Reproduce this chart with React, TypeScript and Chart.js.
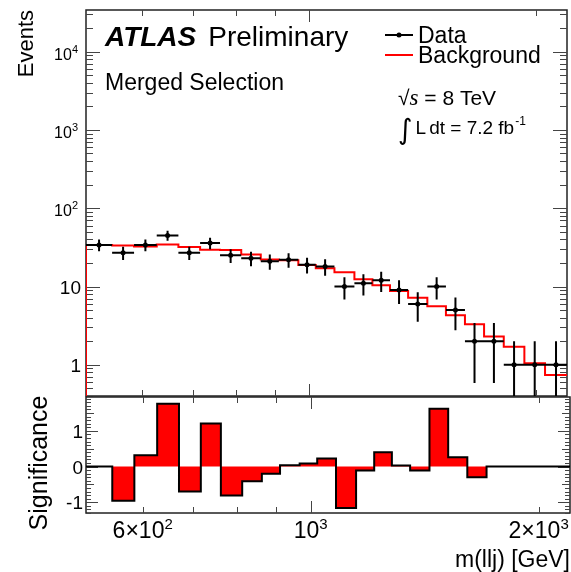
import React, { useEffect, useRef } from 'react';
import { Chart, registerables } from 'chart.js';

Chart.register(...registerables);

// ---------------- data ----------------
const binEdges = [505, 547, 585, 627, 670, 716, 761, 812, 862, 911, 967, 1020, 1080, 1148, 1213, 1280, 1353, 1435, 1519, 1610, 1707, 1813, 1931, 2057, 2200];
const dataCounts = [34, 27, 34, 45, 27, 36, 25, 23, 21, 22, 19, 18, 10, 11, 12, 9, 6, 10, 5, 2, 2, 1, 1, 1];
const backgroundCounts = [33.8, 33.5, 32.5, 34.5, 31.9, 29.5, 29.3, 25.7, 22.2, 21.7, 18.8, 17.1, 15.2, 12.4, 10.4, 8.8, 7.2, 5.6, 4.3, 3.3, 2.3, 1.7, 1.05, 0.74];
const significance = [0, -0.96, 0.32, 1.76, -0.7, 1.21, -0.81, -0.41, -0.2, 0.04, 0.09, 0.23, -1.16, -0.11, 0.4, 0.03, -0.11, 1.62, 0.26, -0.3, 0, 0, 0, 0];

const xMin = 505;
const xMax = 2200;
const yTopMin = 0.4;
const yTopMax = 34000;
const ySigMin = -1.3;
const ySigMax = 1.95;

const xLabelValues = [600, 1000, 2000];
const xLabelBases = ['6×10', '10', '2×10'];
const xLabelExps = ['2', '3', '3'];
const xMinorTicks = [600, 700, 800, 900, 2000];
const xMajorTicks = [1000];
const yTopLabelValues = [1, 10, 100, 1000, 10000];
const yTopLabelExps = ['', '', '2', '3', '4'];
const ySigLabelValues = [-1, 0, 1];

const FONT = "'Liberation Sans', Arial, Helvetica, sans-serif";

// ---------------- helpers ----------------
function stepPoints(values: number[], floorStart?: number) {
  const pts: { x: number; y: number }[] = [];
  if (floorStart !== undefined) pts.push({ x: binEdges[0], y: floorStart });
  values.forEach((v, i) => {
    pts.push({ x: binEdges[i], y: v });
    pts.push({ x: binEdges[i + 1], y: v });
  });
  return pts;
}

function binCenter(i: number) {
  return Math.sqrt(binEdges[i] * binEdges[i + 1]);
}

function errorBarPoints() {
  const pts: { x: number; y: number | null }[] = [];
  dataCounts.forEach((n, i) => {
    const c = binCenter(i);
    const e = Math.sqrt(n);
    pts.push({ x: binEdges[i], y: n }, { x: binEdges[i + 1], y: n }, { x: c, y: null });
    pts.push({ x: c, y: Math.max(n - e, 1e-3) }, { x: c, y: n + e }, { x: c, y: null });
  });
  return pts;
}

function powLabel(ctx: CanvasRenderingContext2D, base: string, exp: string, x: number, y: number,
  baseSize: number, expSize: number, raise: number, align: 'right' | 'center') {
  ctx.font = `${baseSize}px ${FONT}`;
  const wb = ctx.measureText(base).width;
  ctx.font = `${expSize}px ${FONT}`;
  const we = exp ? ctx.measureText(exp).width : 0;
  const total = wb + we;
  const x0 = align === 'right' ? x - total : x - total / 2;
  ctx.textAlign = 'left';
  ctx.textBaseline = 'alphabetic';
  ctx.fillStyle = '#000';
  ctx.font = `${baseSize}px ${FONT}`;
  ctx.fillText(base, x0, y);
  if (exp) {
    ctx.font = `${expSize}px ${FONT}`;
    ctx.fillText(exp, x0 + wb, y - raise);
  }
}

function line(ctx: CanvasRenderingContext2D, x1: number, y1: number, x2: number, y2: number) {
  ctx.beginPath();
  ctx.moveTo(x1, y1);
  ctx.lineTo(x2, y2);
  ctx.stroke();
}

function drawXTicks(ctx: CanvasRenderingContext2D, chart: any, minorLen: number, majorLen: number) {
  const a = chart.chartArea;
  const xs = chart.scales.x;
  ctx.strokeStyle = '#444';
  ctx.lineWidth = 1;
  const all = [...xMinorTicks.map((v) => [v, minorLen]), ...xMajorTicks.map((v) => [v, majorLen])];
  all.forEach(([v, len]) => {
    const px = Math.round(xs.getPixelForValue(v)) + 0.5;
    line(ctx, px, a.top, px, a.top + len);
    line(ctx, px, a.bottom, px, a.bottom - len);
  });
}

function drawFrame(ctx: CanvasRenderingContext2D, a: any) {
  ctx.strokeStyle = '#222';
  ctx.lineWidth = 1.5;
  ctx.strokeRect(a.left, a.top, a.right - a.left, a.bottom - a.top);
}

// ---------------- plugins ----------------
const topPlugin = {
  id: 'topAxes',
  beforeDatasetsDraw(chart: any) {
    const ctx: CanvasRenderingContext2D = chart.ctx;
    const a = chart.chartArea;
    const ys = chart.scales.y;
    ctx.save();
    drawFrame(ctx, a);
    ctx.strokeStyle = '#444';
    ctx.lineWidth = 1;
    for (let d = -1; d <= 4; d++) {
      for (let k = 1; k <= 9; k++) {
        const v = k * Math.pow(10, d);
        if (v < yTopMin || v > yTopMax) continue;
        const py = Math.round(ys.getPixelForValue(v)) + 0.5;
        const len = k === 1 ? 14 : 7;
        line(ctx, a.left, py, a.left + len, py);
        line(ctx, a.right - len, py, a.right, py);
      }
    }
    drawXTicks(ctx, chart, 6, 12);
    ctx.restore();
  },
  afterDraw(chart: any) {
    const ctx: CanvasRenderingContext2D = chart.ctx;
    const ys = chart.scales.y;
    ctx.save();
    // y tick labels
    yTopLabelValues.forEach((v, i) => {
      const py = ys.getPixelForValue(v);
      const exp = yTopLabelExps[i];
      if (exp) {
        powLabel(ctx, '10', exp, 78, py + 8, 16, 11, 7, 'right');
      } else {
        powLabel(ctx, String(v), '', 81, py + 7, 19, 11, 0, 'right');
      }
    });
    // axis title
    ctx.fillStyle = '#000';
    ctx.save();
    ctx.translate(33, 10);
    ctx.rotate(-Math.PI / 2);
    ctx.font = `22px ${FONT}`;
    ctx.textAlign = 'right';
    ctx.textBaseline = 'alphabetic';
    ctx.fillText('Events', 0, 0);
    ctx.restore();

    // ATLAS Preliminary
    ctx.textAlign = 'left';
    ctx.font = `italic bold 28px ${FONT}`;
    ctx.fillText('ATLAS', 105, 46);
    const wA = ctx.measureText('ATLAS').width;
    ctx.font = `28px ${FONT}`;
    ctx.fillText('Preliminary', 105 + wA + 12, 46);

    // Merged Selection
    ctx.font = `23px ${FONT}`;
    ctx.fillText('Merged Selection', 105, 90);

    // legend
    ctx.strokeStyle = '#000';
    ctx.lineWidth = 2;
    line(ctx, 385, 35, 413, 35);
    ctx.beginPath();
    ctx.arc(399, 35, 2.5, 0, Math.PI * 2);
    ctx.fillStyle = '#000';
    ctx.fill();
    ctx.strokeStyle = '#ff0000';
    line(ctx, 385, 55, 413, 55);
    ctx.fillStyle = '#000';
    ctx.font = `23px ${FONT}`;
    ctx.fillText('Data', 418, 43);
    ctx.fillText('Background', 418, 63);

    // sqrt(s)
    let x0 = 398;
    ctx.font = `21px ${FONT}`;
    ctx.fillText('√', x0, 105);
    x0 += ctx.measureText('√').width;
    ctx.font = `italic 23px 'Liberation Serif', serif`;
    ctx.fillText('s', x0, 105);
    x0 += ctx.measureText('s').width;
    ctx.font = `21px ${FONT}`;
    ctx.fillText(' = 8 TeV', x0, 105);

    // luminosity
    x0 = 398;
    ctx.font = `28px 'DejaVu Sans', ${FONT}`;
    ctx.fillText('∫', x0, 139);
    x0 += ctx.measureText('∫').width + 3;
    ctx.font = `19px ${FONT}`;
    ctx.fillText('L', x0, 134);
    x0 += ctx.measureText('L').width + 3;
    ctx.fillText('dt = 7.2 fb', x0, 134);
    x0 += ctx.measureText('dt = 7.2 fb').width;
    ctx.font = `12px ${FONT}`;
    ctx.fillText('-1', x0 + 1, 125);
    ctx.restore();
  },
};

const bottomPlugin = {
  id: 'bottomAxes',
  beforeDatasetsDraw(chart: any) {
    const ctx: CanvasRenderingContext2D = chart.ctx;
    const a = chart.chartArea;
    const ys = chart.scales.y;
    ctx.save();
    drawFrame(ctx, a);
    ctx.strokeStyle = '#444';
    ctx.lineWidth = 1;
    for (let k = -13; k <= 19; k++) {
      const v = k / 10;
      if (v < ySigMin || v > ySigMax) continue;
      const py = Math.round(ys.getPixelForValue(v)) + 0.5;
      const len = k % 10 === 0 ? 12 : k % 5 === 0 ? 8 : 5;
      line(ctx, a.left, py, a.left + len, py);
      line(ctx, a.right - len, py, a.right, py);
    }
    drawXTicks(ctx, chart, 6, 12);
    ctx.restore();
  },
  afterDraw(chart: any) {
    const ctx: CanvasRenderingContext2D = chart.ctx;
    const xs = chart.scales.x;
    const ys = chart.scales.y;
    const a = chart.chartArea;
    ctx.save();
    ySigLabelValues.forEach((v) => {
      const py = ys.getPixelForValue(v);
      powLabel(ctx, v < 0 ? '-' + Math.abs(v) : String(v), '', 83, py + 7, 19, 11, 0, 'right');
    });
    xLabelValues.forEach((v, i) => {
      const px = xs.getPixelForValue(v);
      powLabel(ctx, xLabelBases[i], xLabelExps[i], px, a.bottom + 25, 23, 15, 9, 'center');
    });
    ctx.fillStyle = '#000';
    ctx.font = `23px ${FONT}`;
    ctx.textAlign = 'right';
    ctx.fillText('m(llj) [GeV]', 570, a.bottom + 54);

    ctx.save();
    ctx.translate(47, (a.top + a.bottom) / 2 + 8);
    ctx.rotate(-Math.PI / 2);
    ctx.font = `25px ${FONT}`;
    ctx.textAlign = 'center';
    ctx.fillText('Significance', 0, 0);
    ctx.restore();
    ctx.restore();
  },
};

// ---------------- component ----------------
export default function App() {
  const topRef = useRef<HTMLCanvasElement>(null);
  const botRef = useRef<HTMLCanvasElement>(null);

  useEffect(() => {
    const topChart = new Chart(topRef.current as HTMLCanvasElement, {
      type: 'line',
      data: {
        datasets: [
          {
            label: 'Data',
            data: dataCounts.map((n, i) => ({ x: binCenter(i), y: n })),
            showLine: false,
            pointRadius: 2.5,
            pointBackgroundColor: '#000',
            pointBorderColor: '#000',
            borderWidth: 0,
          },
          {
            label: 'Data errors',
            data: errorBarPoints() as any,
            borderColor: '#000',
            borderWidth: 2,
            pointRadius: 0,
            spanGaps: false,
            tension: 0,
          },
          {
            label: 'Background',
            data: stepPoints(backgroundCounts, 1e-3),
            borderColor: '#ff0000',
            borderWidth: 2,
            pointRadius: 0,
            tension: 0,
            fill: false,
          },
        ],
      },
      options: {
        responsive: false,
        animation: false,
        devicePixelRatio: 1,
        layout: { padding: { left: 86, top: 10, right: 1, bottom: 3 } },
        scales: {
          x: { type: 'logarithmic', min: xMin, max: xMax, display: false },
          y: { type: 'logarithmic', min: yTopMin, max: yTopMax, display: false },
        },
        plugins: { legend: { display: false }, tooltip: { enabled: false } },
      },
      plugins: [topPlugin],
    } as any);

    const botChart = new Chart(botRef.current as HTMLCanvasElement, {
      type: 'line',
      data: {
        datasets: [
          {
            label: 'Significance',
            data: stepPoints(significance),
            borderColor: '#000',
            backgroundColor: '#ff0000',
            borderWidth: 2,
            pointRadius: 0,
            tension: 0,
            fill: 'origin',
          },
        ],
      },
      options: {
        responsive: false,
        animation: false,
        devicePixelRatio: 1,
        layout: { padding: { left: 86, top: 5, right: 1, bottom: 59 } },
        scales: {
          x: { type: 'logarithmic', min: xMin, max: xMax, display: false },
          y: { type: 'linear', min: ySigMin, max: ySigMax, display: false },
        },
        plugins: { legend: { display: false }, tooltip: { enabled: false } },
      },
      plugins: [bottomPlugin],
    } as any);

    return () => {
      topChart.destroy();
      botChart.destroy();
    };
  }, []);

  return (
    <div style={{ position: 'absolute', left: 0, top: 0, width: 571, height: 572, background: '#fff' }}>
      <canvas ref={topRef} width={571} height={400} style={{ position: 'absolute', left: 0, top: 0, width: 571, height: 400 }} />
      <canvas ref={botRef} width={571} height={180} style={{ position: 'absolute', left: 0, top: 392, width: 571, height: 180 }} />
    </div>
  );
}
